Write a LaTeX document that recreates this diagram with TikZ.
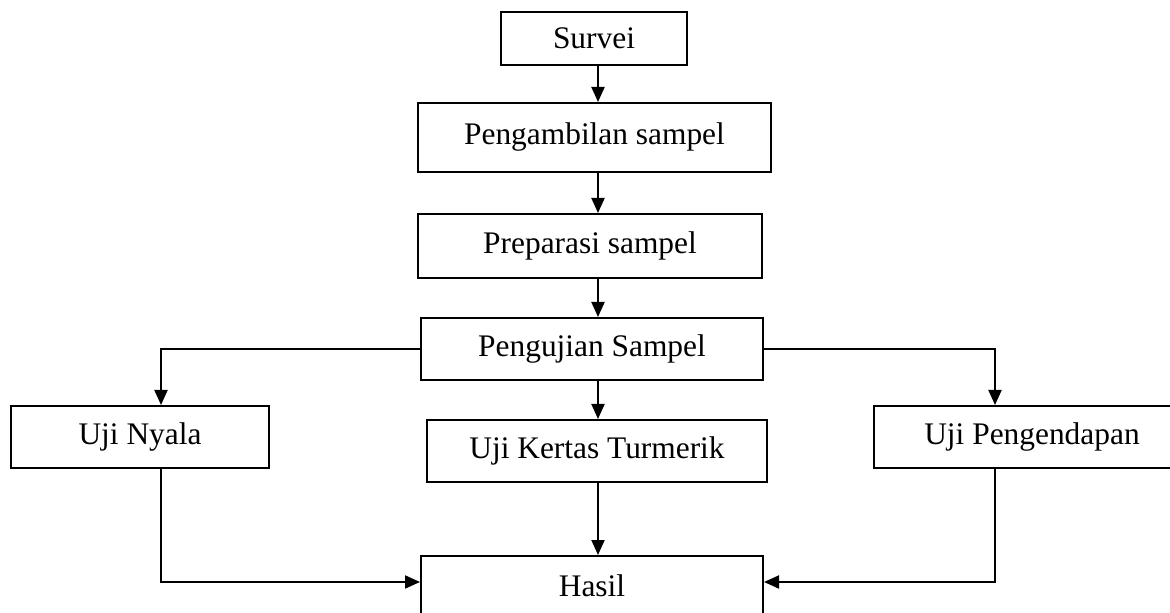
\documentclass[tikz,border=0pt]{standalone}
\usepackage{fontspec}
\setmainfont{Liberation Serif}
\usetikzlibrary{arrows.meta}

\begin{document}
\begin{tikzpicture}[x=0.5pt,y=-0.5pt,
	box/.style={draw, line width=1pt, align=center, inner sep=0pt, font=\fontsize{15.7}{19}\selectfont},
	flow/.style={-{Triangle[length=7.5pt,width=6.5pt]}, line width=1pt}]
\path[use as bounding box, clip] (0,0) rectangle (1170,613);

\node[box, minimum width=93pt, minimum height=26.5pt] (survei) at (594,38.5) {Survei};
\node[box, minimum width=176.5pt, minimum height=34.5pt] (ambil) at (594.5,137.5) {Pengambilan sampel};
\node[box, minimum width=172pt, minimum height=32pt] (prep) at (590,246) {Preparasi sampel};
\node[box, minimum width=171pt, minimum height=31pt] (uji) at (592,349) {Pengujian Sampel};
\node[box, minimum width=129pt, minimum height=31pt] (nyala) at (140,437) {Uji Nyala};
\node[box, minimum width=170pt, minimum height=31pt] (kertas) at (597,451) {Uji Kertas Turmerik};
\node[box, minimum width=158pt, minimum height=31pt] (endap) at (1032,437) {Uji Pengendapan};
\node[box, minimum width=171pt, minimum height=30pt] (hasil) at (592,586) {Hasil};

\coordinate (mid) at (598,0);
\coordinate (ltap) at (161,582);
\coordinate (rtap) at (995,582);

\draw[flow] (mid |- survei.south) -- (mid |- ambil.north);
\draw[flow] (mid |- ambil.south) -- (mid |- prep.north);
\draw[flow] (mid |- prep.south) -- (mid |- uji.north);
\draw[flow] (mid |- uji.south) -- (mid |- kertas.north);
\draw[flow] (mid |- kertas.south) -- (mid |- hasil.north);
\draw[flow] (uji.west) -| (ltap |- nyala.north);
\draw[flow] (uji.east) -| (rtap |- endap.north);
\draw[flow] (ltap |- nyala.south) -- (ltap) -- (ltap -| hasil.west);
\draw[flow] (rtap |- endap.south) -- (rtap) -- (rtap -| hasil.east);
\end{tikzpicture}
\end{document}
